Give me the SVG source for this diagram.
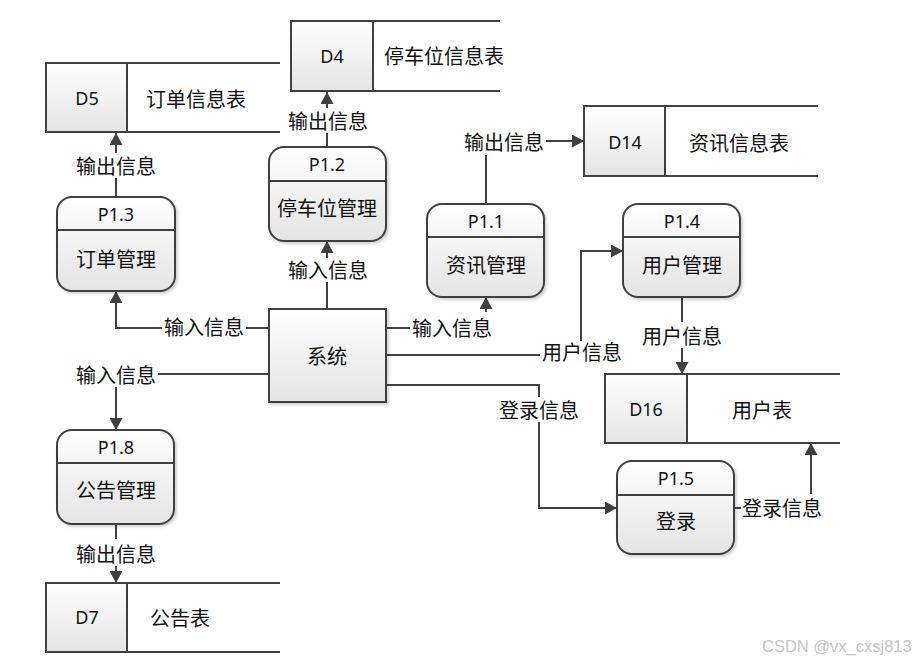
<svg xmlns="http://www.w3.org/2000/svg" width="917" height="662" viewBox="0 0 917 662">
<defs>
<linearGradient id="g" x1="0" y1="0" x2="0" y2="1">
<stop offset="0" stop-color="#ffffff"/>
<stop offset="1" stop-color="#e4e4e4"/>
</linearGradient>
<filter id="sh" x="-10%" y="-10%" width="125%" height="130%">
<feDropShadow dx="2" dy="2" stdDeviation="1.5" flood-color="#000" flood-opacity="0.18"/>
</filter>
<marker id="ah" markerUnits="userSpaceOnUse" markerWidth="13" markerHeight="13" refX="12" refY="6.5" orient="auto">
<path d="M0,0 L12,6.5 L0,13 z" fill="#404040"/>
</marker>
<style>
.box{fill:url(#g);stroke:#404040;stroke-width:2;filter:url(#sh)}
.ln{fill:none;stroke:#404040;stroke-width:2}
.cn{fill:none;stroke:#404040;stroke-width:2}
.arr{marker-end:url(#ah)}
.cjk{font-family:"Microsoft YaHei","Noto Sans CJK SC",sans-serif;font-size:20px;fill:#111;text-anchor:middle;dominant-baseline:central}
.cjkl{font-family:"Microsoft YaHei","Noto Sans CJK SC",sans-serif;font-size:20px;fill:#111;dominant-baseline:central}
.lat{font-family:"Noto Sans","Liberation Sans",sans-serif;font-size:18px;fill:#111;text-anchor:middle;dominant-baseline:central}
.wm{font-family:"Liberation Sans",Arial,sans-serif;font-size:16.5px;fill:#c4c4c4}
</style>
</defs>
<rect width="917" height="662" fill="#fff"/>

<g id="connectors">
<path class="cn" d="M116 197 V178"/><path class="cn arr" d="M116 153 V133"/>
<text class="cjk" x="116" y="165">输出信息</text>
<path class="cn" d="M327 147 V133"/><path class="cn arr" d="M327 108 V92"/>
<text class="cjk" x="328" y="120">输出信息</text>
<path class="cn" d="M327 309 V282"/><path class="cn arr" d="M327 258 V241"/>
<text class="cjk" x="328" y="269">输入信息</text>
<path class="cn" d="M269 328 H246"/><path class="cn arr" d="M162 328 H116 V291"/>
<text class="cjk" x="204" y="326">输入信息</text>
<path class="cn" d="M269 374 H158"/><path class="cn arr" d="M116 387 V430"/>
<text class="cjk" x="116" y="374">输入信息</text>
<path class="cn" d="M116 524 V539"/><path class="cn arr" d="M116 566 V583"/>
<text class="cjk" x="116" y="553">输出信息</text>
<path class="cn" d="M386 328 H410"/><path class="cn arr" d="M486 312 V297"/>
<text class="cjk" x="452" y="327">输入信息</text>
<path class="cn" d="M486 204 V155"/><path class="cn arr" d="M546 141 H584"/>
<text class="cjk" x="504" y="141">输出信息</text>
<path class="cn" d="M386 355 H540"/><path class="cn arr" d="M581 341 V251 H623"/>
<text class="cjk" x="582" y="351">用户信息</text>
<path class="cn" d="M682 297 V322"/><path class="cn arr" d="M682 348 V374"/>
<text class="cjk" x="682" y="335">用户信息</text>
<path class="cn" d="M386 385 H539 V397"/><path class="cn arr" d="M539 422 V508 H617"/>
<text class="cjk" x="539" y="409">登录信息</text>
<path class="cn" d="M734 508 H741"/><path class="cn arr" d="M811 494 V443"/>
<text class="cjk" x="782" y="507">登录信息</text>
</g>

<g id="D5">
<rect class="box" x="46" y="63" width="81" height="69" style="filter:none"/>
<path class="ln" d="M46 63 H280 M46 132 H280 M127 63 V132"/>
<text class="lat" x="87" y="98">D5</text>
<text class="cjkl" x="146" y="98">订单信息表</text>
</g>
<g id="D4">
<rect class="box" x="291" y="21" width="82" height="70" style="filter:none"/>
<path class="ln" d="M291 21 H500 M291 91 H500 M373 21 V91"/>
<text class="lat" x="332" y="56">D4</text>
<text class="cjkl" x="384" y="55">停车位信息表</text>
</g>
<g id="D14">
<rect class="box" x="584" y="106" width="81" height="70" style="filter:none"/>
<path class="ln" d="M584 106 H818 M584 176 H818 M665 106 V176"/>
<text class="lat" x="625" y="142">D14</text>
<text class="cjkl" x="689" y="142">资讯信息表</text>
</g>
<g id="D16">
<rect class="box" x="605" y="374" width="82" height="69" style="filter:none"/>
<path class="ln" d="M605 374 H840 M605 443 H840 M687 374 V443"/>
<text class="lat" x="646" y="409">D16</text>
<text class="cjk" x="762" y="409">用户表</text>
</g>
<g id="D7">
<rect class="box" x="46" y="583" width="81" height="69" style="filter:none"/>
<path class="ln" d="M46 583 H280 M46 652 H280 M127 583 V652"/>
<text class="lat" x="87" y="617">D7</text>
<text class="cjkl" x="150" y="617">公告表</text>
</g>

<g id="P1.3">
<rect class="box" x="57" y="197" width="118" height="94" rx="15"/>
<path class="ln" d="M57 230 H175"/>
<text class="lat" x="116" y="214">P1.3</text>
<text class="cjk" x="116" y="258">订单管理</text>
</g>
<g id="P1.2">
<rect class="box" x="269" y="147" width="117" height="94" rx="15"/>
<path class="ln" d="M269 181 H386"/>
<text class="lat" x="327" y="164">P1.2</text>
<text class="cjk" x="327" y="207">停车位管理</text>
</g>
<g id="P1.1">
<rect class="box" x="427" y="204" width="117" height="93" rx="15"/>
<path class="ln" d="M427 237 H544"/>
<text class="lat" x="486" y="221">P1.1</text>
<text class="cjk" x="486" y="264">资讯管理</text>
</g>
<g id="P1.4">
<rect class="box" x="623" y="204" width="117" height="93" rx="15"/>
<path class="ln" d="M623 237 H740"/>
<text class="lat" x="682" y="221">P1.4</text>
<text class="cjk" x="682" y="264">用户管理</text>
</g>
<g id="P1.8">
<rect class="box" x="57" y="430" width="117" height="94" rx="15"/>
<path class="ln" d="M57 463 H174"/>
<text class="lat" x="116" y="447">P1.8</text>
<text class="cjk" x="116" y="489">公告管理</text>
</g>
<g id="P1.5">
<rect class="box" x="617" y="461" width="117" height="93" rx="15"/>
<path class="ln" d="M617 495 H734"/>
<text class="lat" x="676" y="478">P1.5</text>
<text class="cjk" x="676" y="520">登录</text>
</g>
<g id="system">
<rect class="box" x="269" y="309" width="117" height="93"/>
<text class="cjk" x="327" y="355">系统</text>
</g>

<text class="wm" x="762" y="652">CSDN @vx_cxsj813</text>
</svg>
